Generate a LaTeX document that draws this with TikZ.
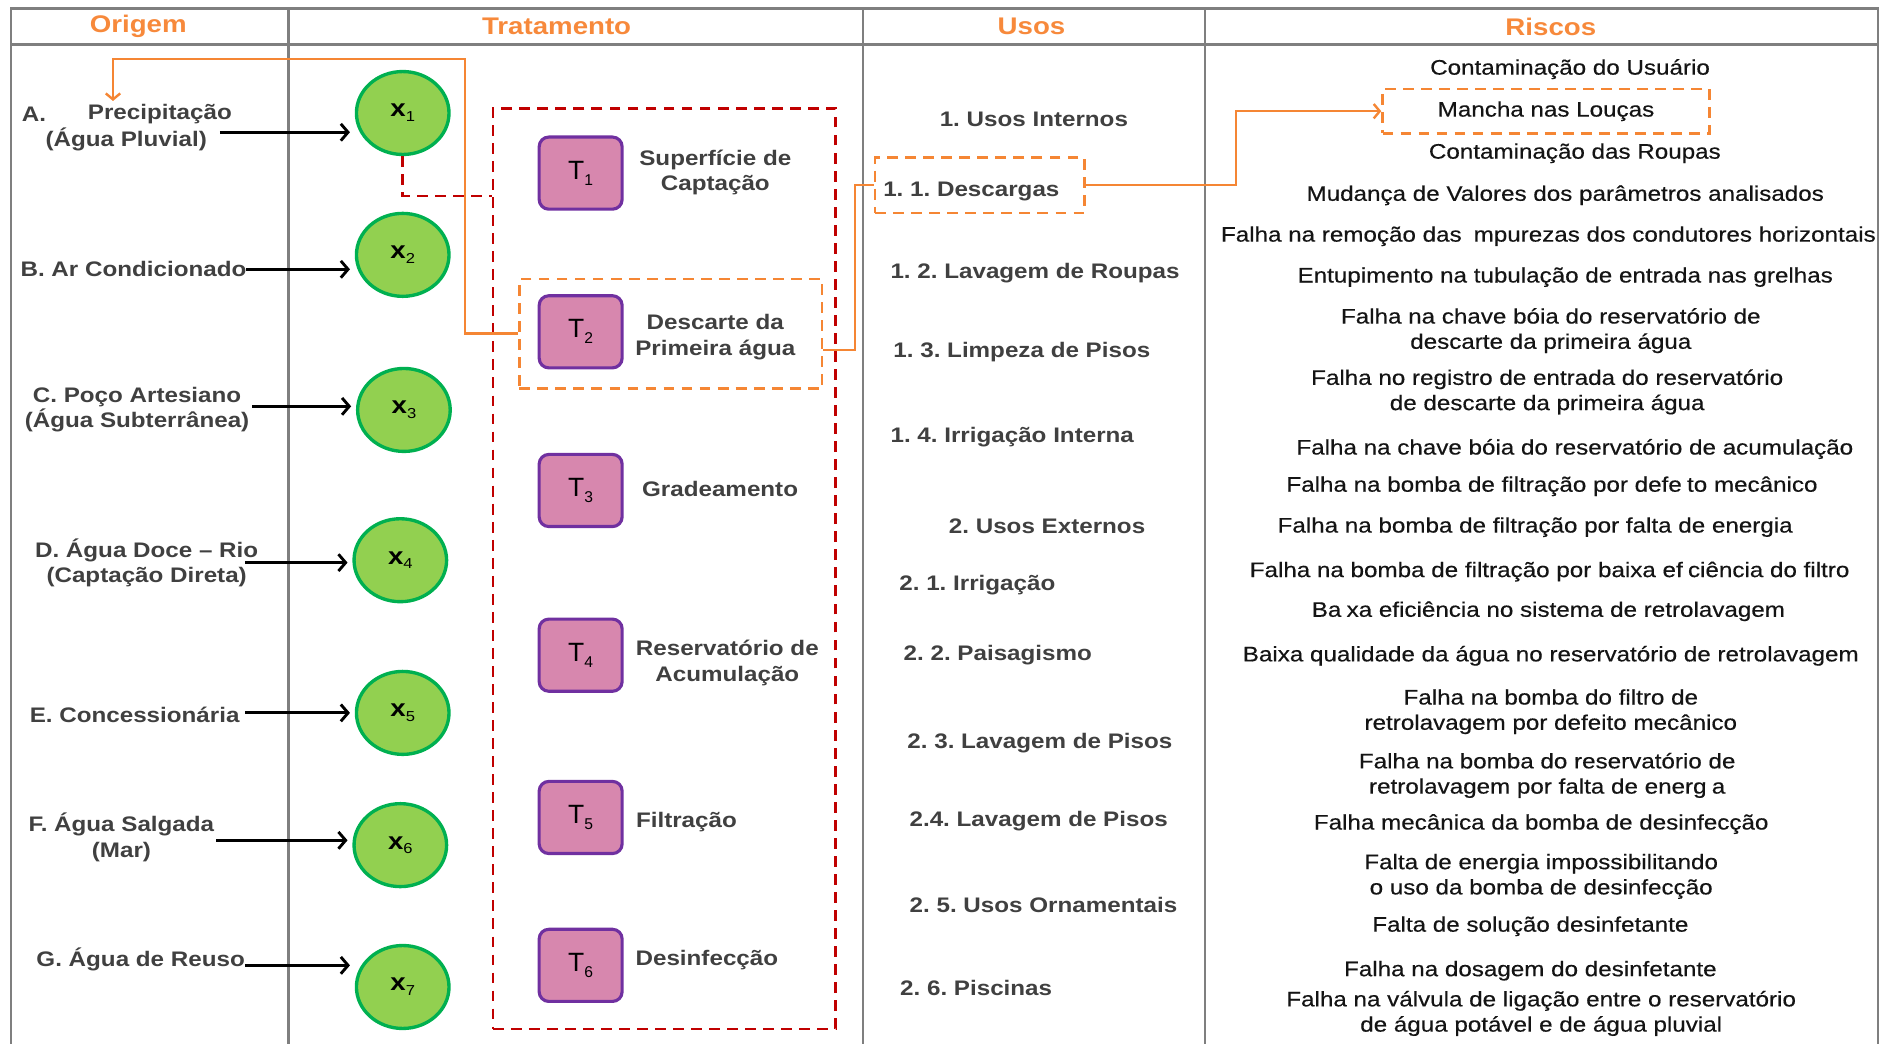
\documentclass[tikz,border=0pt]{standalone}
\usepackage{fontspec}
\setmainfont{Liberation Sans}
\newfontfamily\wideface[FakeStretch=1.15]{Liberation Sans}
\newfontfamily\riskface[FakeStretch=1.15,FakeBold=0.4]{Liberation Sans}
\usetikzlibrary{shapes.geometric,arrows.meta,calc}

\definecolor{hdr}{HTML}{F7893B}
\definecolor{orl}{HTML}{F58634}
\definecolor{gridc}{HTML}{7F7F7F}
\definecolor{txt}{HTML}{404040}
\definecolor{srcfill}{HTML}{92D050}
\definecolor{srcedge}{HTML}{00B050}
\definecolor{tfill}{HTML}{D787AE}
\definecolor{tedge}{HTML}{7030A0}
\definecolor{redd}{HTML}{C00000}

\newcommand\hdrfont{\wideface\bfseries\fontsize{20}{24}\selectfont}
\newcommand\lblfont{\wideface\bfseries\fontsize{17.5}{21}\selectfont}
\newcommand\riskfont{\riskface\fontsize{17.5}{21}\selectfont}
\newcommand\xlab[1]{{\wideface\bfseries\fontsize{20}{20}\selectfont x}\raisebox{-4pt}{\wideface\fontsize{12}{12}\selectfont #1}}
\newcommand\tlab[1]{{\fontsize{22}{22}\selectfont T}\raisebox{-5pt}{\fontsize{13}{13}\selectfont #1}}
\newcommand\gap{\hspace{0.25em}}

\begin{document}
\frenchspacing
\begin{tikzpicture}[x=1pt,y=-1pt,
  grid/.style={draw=gridc,line width=1.8pt},
  hdr/.style={font=\hdrfont,text=hdr,inner sep=0pt},
  lbl/.style={font=\lblfont,text=txt,inner sep=0pt,align=center,yshift=-2pt},
  risk/.style={font=\riskfont,text=black!92,inner sep=0pt,align=center,yshift=-2.5pt},
  src/.style={ellipse,draw=srcedge,fill=srcfill,line width=2.8pt,minimum width=77pt,minimum height=69pt,inner sep=0pt},
  tbox/.style={rectangle,rounded corners=8pt,draw=tedge,fill=tfill,line width=2.6pt,minimum width=69pt,minimum height=60pt,inner sep=0pt},
  feed/.style={draw=black,line width=2.4pt,-{Straight Barb[length=6pt,width=14pt]},shorten >=4pt},
  redzone/.style={draw=redd,line width=2.2pt,dash pattern=on 9pt off 6pt},
  orzone/.style={draw=orl,line width=2pt,dash pattern=on 9pt off 6pt},
  orlink/.style={draw=orl,line width=2pt},
  ortip/.style={-{Straight Barb[length=5pt,width=12pt]}},
]
\useasboundingbox (0,0) rectangle (1568,868);

% table frame
\draw[grid] (9,868) -- (9,7) -- (1562,7) -- (1562,868);
\draw[grid] (9,37) -- (1562,37);
\foreach \x in {240,718,1002} \draw[grid] (\x,7) -- (\x,868);

% column headings
\node[hdr] (hOrig) at (115,22) {Origem};
\node[hdr] (hTrat) at (463,22) {Tratamento};
\node[hdr] (hUsos) at (858,22) {Usos};
\node[hdr] (hRisc) at (1290,22) {Riscos};

% sources
\node[lbl,anchor=west] (lA0) at (18,93) {A.};
\node[lbl] (lA1) at (133,93) {Precipitação};
\node[lbl] (lA2) at (105,114) {(Água Pluvial)};
\node[lbl] (lB) at (111,222) {B. Ar Condicionado};
\node[lbl] (lC) at (114,338.5) {C. Poço Artesiano\\(Água Subterrânea)};
\node[lbl] (lD) at (122,466.5) {D. Água Doce – Rio\\(Captação Direta)};
\node[lbl] (lE) at (112,593) {E. Concessionária};
\node[lbl] (lF) at (101,694.5) {F. Água Salgada\\(Mar)};
\node[lbl] (lG) at (117,796) {G. Água de Reuso};

\node[src] (x1) at (335,94) {\xlab{1}};
\node[src] (x2) at (335,212) {\xlab{2}};
\node[src] (x3) at (336,341) {\xlab{3}};
\node[src] (x4) at (333,466) {\xlab{4}};
\node[src] (x5) at (335,593) {\xlab{5}};
\node[src] (x6) at (333,703) {\xlab{6}};
\node[src] (x7) at (335,821) {\xlab{7}};

\coordinate (fA) at (183,110);
\coordinate (fB) at (205,224);
\coordinate (fC) at (210,338);
\coordinate (fD) at (204,468);
\coordinate (fE) at (204,593);
\coordinate (fF) at (180,699);
\coordinate (fG) at (204,803);
\draw[feed] (fA) -- (fA -| x1.west);
\draw[feed] (fB) -- (fB -| x2.west);
\draw[feed] (fC) -- (fC -| x3.west);
\draw[feed] (fD) -- (fD -| x4.west);
\draw[feed] (fE) -- (fE -| x5.west);
\draw[feed] (fF) -- (fF -| x6.west);
\draw[feed] (fG) -- (fG -| x7.west);

% treatment chain
\node[redzone,rectangle,minimum width=285pt,minimum height=766pt,inner sep=0pt] (zone) at (552.5,473) {};
\draw[redzone] (x1.south) |- ($(zone.north west)+(0,74)$);

\node[tbox] (t1) at (483,144) {\tlab{1}};
\node[tbox] (t2) at (483,276) {\tlab{2}};
\node[tbox] (t3) at (483,408) {\tlab{3}};
\node[tbox] (t4) at (483,545) {\tlab{4}};
\node[tbox] (t5) at (483,680) {\tlab{5}};
\node[tbox] (t6) at (483,803) {\tlab{6}};

\node[lbl] (n1) at (595,141.5) {Superfície de\\Captação};
\node[lbl] (n2) at (595,278.5) {Descarte da\\Primeira água};
\node[lbl] (n3) at (599,405) {Gradeamento};
\node[lbl] (n4) at (605,549.5) {Reservatório de\\Acumulação};
\node[lbl] (n5) at (571,682) {Filtração};
\node[lbl] (n6) at (588,797) {Desinfecção};

\node[orzone,rectangle,minimum width=252pt,minimum height=91pt,inner sep=0pt] (t2grp) at (558,277.5) {};

% uses
\node[lbl] (u1) at (860,97) {1. Usos Internos};
\node[orzone,rectangle,minimum width=174pt,minimum height=46pt,inner sep=0pt] (desc) at (815,154) {};
\node[lbl] (u11) at (808,157) {1. 1. Descargas};
\node[lbl] (u12) at (861,225) {1. 2. Lavagem de Roupas};
\node[lbl] (u13) at (850,291) {1. 3. Limpeza de Pisos};
\node[lbl] (u14) at (842,362) {1. 4. Irrigação Interna};
\node[lbl] (u2) at (871,436) {2. Usos Externos};
\node[lbl] (u21) at (813,485) {2. 1. Irrigação};
\node[lbl] (u22) at (830,543) {2. 2. Paisagismo};
\node[lbl] (u23) at (865,616) {2. 3. Lavagem de Pisos};
\node[lbl] (u24) at (864,681) {2.4. Lavagem de Pisos};
\node[lbl] (u25) at (868,751) {2. 5. Usos Ornamentais};
\node[lbl] (u26) at (812,820) {2. 6. Piscinas};

% risks
\node[risk] (r1) at (1306,55) {Contaminação do Usuário};
\node[risk,orzone,rectangle,minimum width=272pt,minimum height=37pt,yshift=2.5pt] (mancha) at (1286,92.5) {Mancha nas Louças};
\node[risk] (r3) at (1310,125) {Contaminação das Roupas};
\node[risk] (r4) at (1302,160) {Mudança de Valores dos parâmetros analisados};
\node[risk] (r5) at (1288,194) {Falha na remoção das \gap mpurezas dos condutores horizontais};
\node[risk] (r6) at (1302,228) {Entupimento na tubulação de entrada nas grelhas};
\node[risk] (r7) at (1290,272.5) {Falha na chave bóia do reservatório de\\descarte da primeira água};
\node[risk] (r8) at (1287,323.5) {Falha no registro de entrada do reservatório\\de descarte da primeira água};
\node[risk] (r9) at (1310,371) {Falha na chave bóia do reservatório de acumulação};
\node[risk] (r10) at (1291,402) {Falha na bomba de filtração por defe\gap to mecânico};
\node[risk] (r11) at (1277,436) {Falha na bomba de filtração por falta de energia};
\node[risk] (r12) at (1289,473) {Falha na bomba de filtração por baixa ef\gap ciência do filtro};
\node[risk] (r13) at (1288,506) {Ba\gap xa eficiência no sistema de retrolavagem};
\node[risk] (r14) at (1290,543) {Baixa qualidade da água no reservatório de retrolavagem};
\node[risk] (r15) at (1290,589.5) {Falha na bomba do filtro de\\retrolavagem por defeito mecânico};
\node[risk] (r16) at (1287,642.5) {Falha na bomba do reservatório de\\retrolavagem por falta de energ\gap a};
\node[risk] (r17) at (1282,683) {Falha mecânica da bomba de desinfecção};
\node[risk] (r18) at (1282,726.5) {Falta de energia impossibilitando\\o uso da bomba de desinfecção};
\node[risk] (r19) at (1273,768) {Falta de solução desinfetante};
\node[risk] (r20) at (1273,805) {Falha na dosagem do desinfetante};
\node[risk] (r21) at (1282,840.5) {Falha na válvula de ligação entre o reservatório\\de água potável e de água pluvial};

% highlighted links
\coordinate (rainTop) at (387,49);
\coordinate (rainTip) at (94,84);
\draw[orlink,ortip] (t2grp.west) -| (rainTop) -| (rainTip);
\draw[orlink] ($(t2grp.east)+(0,13.5)$) -- ++(26,0) |- (desc.west);
\draw[orlink,ortip] (desc.east) -- ++(125,0) |- (mancha.west);
\end{tikzpicture}
\end{document}
